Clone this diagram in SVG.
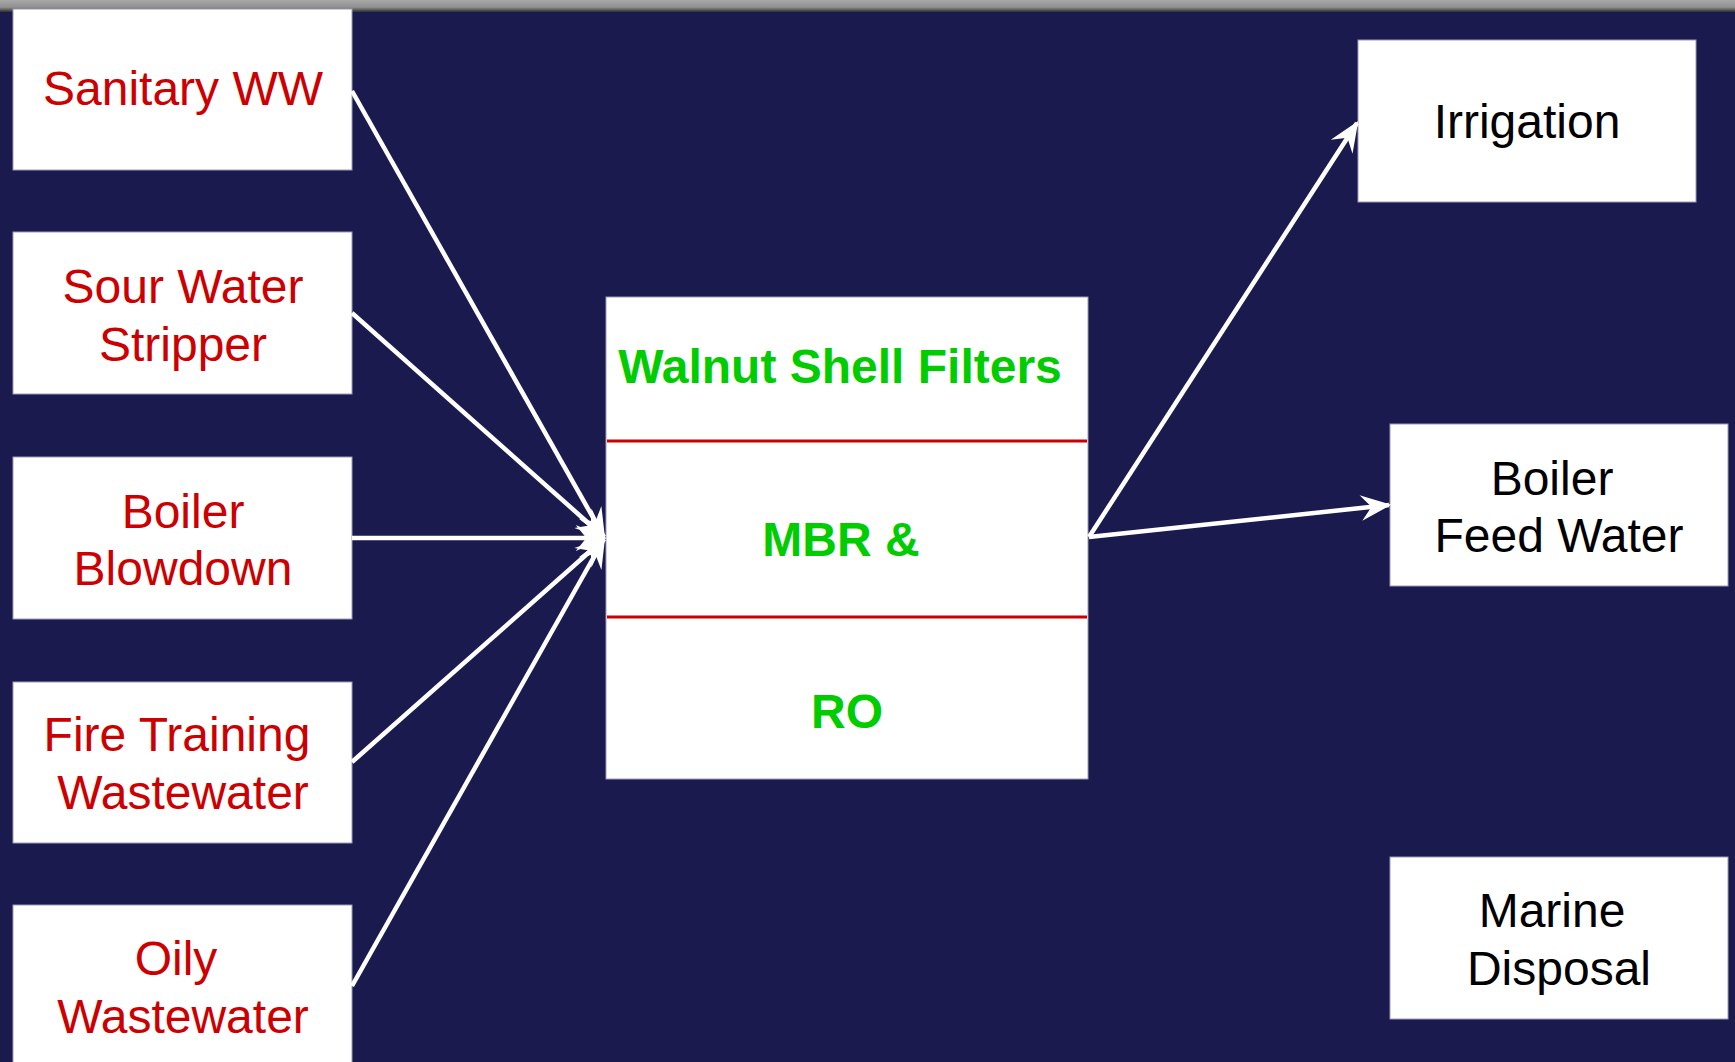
<svg xmlns="http://www.w3.org/2000/svg" width="1735" height="1062" viewBox="0 0 1735 1062">
<defs>
<linearGradient id="bar" x1="0" y1="0" x2="0" y2="1">
<stop offset="0" stop-color="#a8a8a8"/>
<stop offset="0.6" stop-color="#909090"/>
<stop offset="1" stop-color="#303030"/>
</linearGradient>
<marker id="ah" markerUnits="userSpaceOnUse" markerWidth="40" markerHeight="40" viewBox="-30 -15 34 30" refX="0" refY="0" orient="auto">
<path d="M 2 0 L -24 -11 L -15 0 L -24 11 Z" fill="#ffffff"/>
</marker>
<style>
.box{fill:#ffffff;stroke:#9a9ab8;stroke-width:1}
.red{fill:#cc0000;font-family:"Liberation Sans",Arial,sans-serif;font-size:48px;text-anchor:middle}
.blk{fill:#000000;font-family:"Liberation Sans",Arial,sans-serif;font-size:48px;text-anchor:middle}
.grn{fill:#00cc00;font-family:"Liberation Sans",Arial,sans-serif;font-size:48px;font-weight:bold;text-anchor:middle}
.div{stroke:#cc0000;stroke-width:3}
.con{stroke:#ffffff;stroke-width:4.5;fill:none;marker-end:url(#ah)}
</style>
</defs>
<rect x="0" y="0" width="1735" height="1062" fill="#1b1a4f"/>
<rect x="0" y="0" width="1735" height="12" fill="url(#bar)"/>
<g id="sanitary">
<rect class="box" x="13" y="9" width="339" height="161"/>
<text class="red" x="183" y="105">Sanitary WW</text>
</g>
<g id="sour">
<rect class="box" x="13" y="232" width="339" height="162"/>
<text class="red" x="183" y="303">Sour Water</text>
<text class="red" x="183" y="361">Stripper</text>
</g>
<g id="blowdown">
<rect class="box" x="13" y="457" width="339" height="162"/>
<text class="red" x="183" y="528">Boiler</text>
<text class="red" x="183" y="585">Blowdown</text>
</g>
<g id="fire">
<rect class="box" x="13" y="682" width="339" height="161"/>
<text class="red" x="177" y="751">Fire Training</text>
<text class="red" x="183" y="809">Wastewater</text>
</g>
<g id="oily">
<rect class="box" x="13" y="905" width="339" height="170"/>
<text class="red" x="176" y="975">Oily</text>
<text class="red" x="183" y="1033">Wastewater</text>
</g>
<g id="treatment">
<rect class="box" x="606" y="297" width="482" height="482"/>
<line class="div" x1="607" y1="441" x2="1087" y2="441"/>
<line class="div" x1="607" y1="617" x2="1087" y2="617"/>
<text class="grn" x="840" y="383">Walnut Shell Filters</text>
<text class="grn" x="841" y="556">MBR &amp;</text>
<text class="grn" x="847" y="728">RO</text>
</g>
<g id="irrigation">
<rect class="box" x="1358" y="40" width="338" height="162"/>
<text class="blk" x="1527" y="138">Irrigation</text>
</g>
<g id="boilerfeed">
<rect class="box" x="1390" y="424" width="338" height="162"/>
<text class="blk" x="1552" y="495">Boiler</text>
<text class="blk" x="1559" y="552">Feed Water</text>
</g>
<g id="marine">
<rect class="box" x="1390" y="857" width="338" height="162"/>
<text class="blk" x="1552" y="927">Marine</text>
<text class="blk" x="1559" y="985">Disposal</text>
</g>
<g id="connectors">
<line class="con" x1="352" y1="91" x2="604" y2="537"/>
<line class="con" x1="352" y1="313" x2="604" y2="537"/>
<line class="con" x1="352" y1="538" x2="604" y2="538"/>
<line class="con" x1="352" y1="762" x2="604" y2="539"/>
<line class="con" x1="352" y1="986" x2="604" y2="539"/>
<line class="con" x1="1089" y1="537" x2="1357" y2="123"/>
<line class="con" x1="1089" y1="537" x2="1389" y2="505"/>
</g>
</svg>
